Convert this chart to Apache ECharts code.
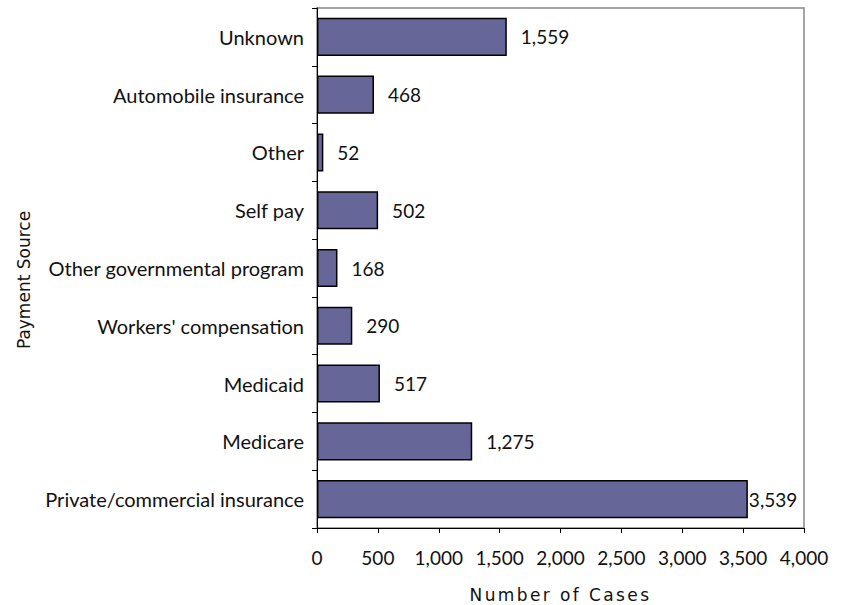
<!DOCTYPE html>
<html>
<head>
<meta charset="utf-8">
<script src="https://cdn.jsdelivr.net/npm/echarts@6/dist/echarts.min.js"></script>
<style>
  html, body { margin: 0; padding: 0; background: #fff; }
  #chart { width: 845px; height: 605px; }
  /* wider tracking for the horizontal axis title */
  #chart svg text[style*="Verdana"] { letter-spacing: 2.4px; }
</style>
</head>
<body>
<div id="chart"></div>
<script>
// Payment sources, bottom to top
const categories = [
  'Private/commercial insurance',
  'Medicare',
  'Medicaid',
  "Workers' compensation",
  'Other governmental program',
  'Self pay',
  'Other',
  'Automobile insurance',
  'Unknown'
];
const cases = [3539, 1275, 517, 290, 168, 502, 52, 468, 1559];
const xTicks = [0, 500, 1000, 1500, 2000, 2500, 3000, 3500, 4000];

const FONT = 'Lato, "Open Sans", sans-serif';
const TITLE_FONT = '"DejaVu Sans", sans-serif';
const X_TITLE_FONT = 'Verdana, "DejaVu Sans", sans-serif';
const fmt = v => v.toLocaleString('en-US');

const chart = echarts.init(document.getElementById('chart'), null, { renderer: 'svg' });
chart.setOption({
  animation: false,
  backgroundColor: '#ffffff',
  grid: {
    left: 317, right: 41, top: 8, bottom: 77,
    outerBoundsMode: 'none',
    show: true, borderColor: '#888888', borderWidth: 1.5, backgroundColor: 'transparent'
  },
  xAxis: {
    type: 'value',
    min: xTicks[0],
    max: xTicks[xTicks.length - 1],
    interval: 500,
    name: 'Number of Cases',
    nameLocation: 'middle',
    nameGap: 58,
    nameTextStyle: { fontFamily: X_TITLE_FONT, fontSize: 17, color: '#111' },
    axisLine: { show: true, lineStyle: { color: '#000', width: 1 } },
    axisTick: { show: true, length: 5, lineStyle: { color: '#000' } },
    axisLabel: { fontFamily: FONT, fontSize: 19, color: '#111', margin: 20, formatter: v => fmt(v) },
    splitLine: { show: false }
  },
  yAxis: {
    type: 'category',
    data: categories,
    name: 'Payment Source',
    nameLocation: 'middle',
    nameGap: 285,
    nameRotate: 90,
    nameTextStyle: { fontFamily: TITLE_FONT, fontSize: 17, color: '#111', padding: [0, 24, 0, 0] },
    axisLine: { show: true, lineStyle: { color: '#000', width: 1 } },
    axisTick: { show: true, length: 5, alignWithLabel: false, lineStyle: { color: '#000' } },
    axisLabel: { fontFamily: FONT, fontSize: 20, color: '#111', margin: 13 }
  },
  series: [{
    type: 'bar',
    data: cases.map(v => ({
      value: v,
      label: { distance: v > 3000 ? 1 : 14 }
    })),
    barCategoryGap: '34%',
    itemStyle: { color: '#666699', borderColor: '#000', borderWidth: 1.5 },
    label: {
      show: true,
      position: 'right',
      fontFamily: FONT,
      fontSize: 19,
      color: '#111',
      formatter: p => fmt(p.value)
    }
  }]
});
</script>
</body>
</html>
